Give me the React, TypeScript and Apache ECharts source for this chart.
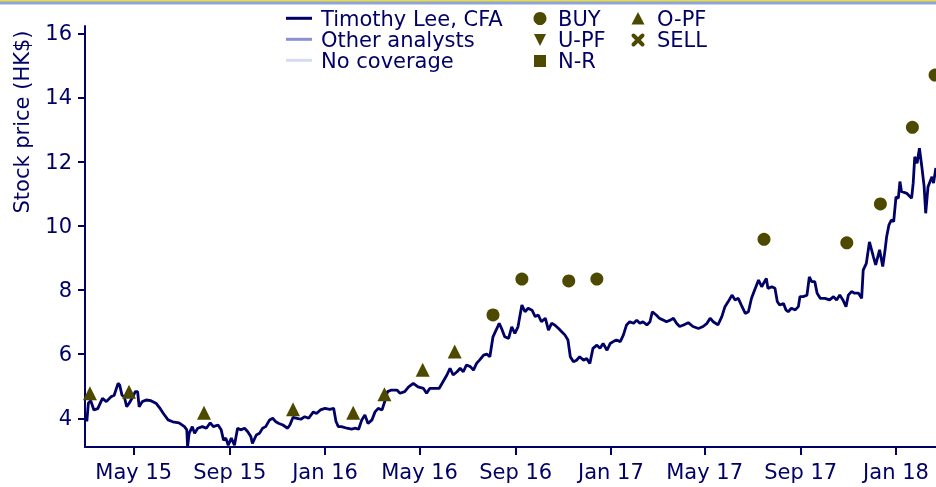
import React, { useEffect, useRef } from "react";
import * as echarts from "echarts";

const BASE = Date.UTC(2015, 0, 1);
const DAY = 86400000;

// Share price (HK$), x = days since 2015-01-01
const priceDays = [
  60, 62, 65, 69, 74, 80, 85, 91, 95, 100, 102, 105, 108, 111, 114, 119, 122, 125, 127, 131,
  136, 142, 149, 154, 158, 164, 170, 178, 185, 188, 189, 191, 195, 198, 202, 208, 213, 218, 222, 228,
  232, 235, 238, 241, 245, 249, 253, 257, 262, 266, 270, 272, 277, 281, 285, 289, 294, 298, 302, 306,
  311, 317, 320, 324, 329, 334, 339, 344, 350, 354, 359, 365, 371, 376, 379, 382, 386, 393, 399, 403,
  408, 412, 416, 420, 425, 429, 433, 438, 442, 445, 450, 457, 461, 467, 472, 478, 484, 491, 495, 499,
  506, 511, 516, 521, 525, 529, 534, 538, 542, 546, 551, 555, 559, 563, 568, 572, 576, 580, 585, 588,
  591, 595, 600, 604, 608, 612, 617, 621, 625, 630, 634, 638, 642, 647, 651, 655, 659, 664, 668, 672,
  676, 679, 683, 687, 691, 696, 700, 704, 708, 713, 717, 721, 726, 730, 734, 738, 743, 747, 751, 755,
  760, 764, 768, 772, 777, 781, 784, 789, 793, 798, 802, 807, 811, 815, 819, 824, 830, 836, 843, 849,
  854, 858, 862, 868, 873, 877, 881, 886, 890, 894, 898, 903, 907, 911, 915, 920, 924, 930, 932, 937,
  941, 944, 947, 952, 955, 958, 962, 967, 971, 973, 977, 982, 985, 988, 992, 995, 999, 1005, 1011, 1016,
  1020, 1024, 1028, 1032, 1035, 1039, 1043, 1048, 1052, 1054, 1058, 1062, 1067, 1070, 1075, 1079, 1082, 1084, 1087, 1090,
  1093, 1096, 1099, 1101, 1103, 1110, 1116, 1118, 1120, 1123, 1126, 1129, 1132, 1134, 1137, 1142, 1144, 1147,
];
const priceValues = [
  3.9, 4.48, 4.55, 4.26, 4.3, 4.62, 4.52, 4.67, 4.72, 5.09, 5.04, 4.72, 4.67, 4.36, 4.46, 4.67, 4.83, 4.83, 4.36, 4.52,
  4.57, 4.55, 4.46, 4.3, 4.15, 3.95, 3.89, 3.86, 3.74, 3.64, 3.11, 3.53, 3.74, 3.53, 3.69, 3.74, 3.69, 3.86, 3.74, 3.79,
  3.64, 3.32, 3.38, 3.16, 3.38, 3.16, 3.69, 3.64, 3.69, 3.58, 3.43, 3.22, 3.48, 3.53, 3.69, 3.74, 3.95, 4.0, 3.89, 3.84,
  3.79, 3.69, 3.79, 4.03, 4.0, 3.97, 4.05, 4.0, 4.2, 4.15, 4.26, 4.31, 4.28, 4.31, 3.9, 3.74, 3.74, 3.69, 3.66, 3.69,
  3.66, 3.95, 4.1, 3.84, 3.95, 4.2, 4.31, 4.26, 4.57, 4.83, 4.88, 4.88, 4.78, 4.83, 4.98, 5.09, 4.98, 4.93, 4.78, 4.93,
  4.93, 4.93, 5.14, 5.35, 5.56, 5.35, 5.45, 5.56, 5.45, 5.66, 5.61, 5.5, 5.71, 5.82, 5.97, 6.0, 5.92, 6.54, 6.8, 6.96,
  6.8, 6.54, 6.49, 6.85, 6.65, 6.85, 7.53, 7.32, 7.43, 7.37, 7.17, 7.22, 7.01, 7.12, 6.75, 6.96, 6.91, 6.8, 6.7, 6.6,
  6.44, 5.92, 5.76, 5.81, 5.92, 5.81, 5.86, 5.71, 6.18, 6.28, 6.18, 6.33, 6.12, 6.33, 6.39, 6.44, 6.39, 6.6, 6.91, 7.01,
  6.96, 7.06, 6.96, 7.01, 6.91, 7.01, 7.32, 7.22, 7.12, 7.06, 7.01, 7.06, 7.12, 6.96, 6.86, 6.91, 6.98, 6.86, 6.8, 6.86,
  6.96, 7.12, 7.01, 6.91, 7.17, 7.48, 7.63, 7.84, 7.69, 7.74, 7.53, 7.27, 7.32, 7.74, 8.0, 8.31, 8.1, 8.36, 8.05, 8.1,
  8.05, 7.64, 7.53, 7.58, 7.38, 7.32, 7.43, 7.38, 7.48, 7.79, 7.79, 7.84, 8.41, 8.26, 8.26, 7.9, 7.74, 7.74, 7.69, 7.79,
  7.69, 7.84, 7.69, 7.48, 7.84, 7.95, 7.9, 7.9, 7.74, 8.62, 8.83, 9.5, 9.04, 8.78, 9.25, 8.73, 9.25, 9.66, 10.03, 10.18,
  10.13, 10.9, 10.86, 11.38, 11.07, 11.01, 10.86, 11.33, 12.15, 11.95, 12.42, 11.85, 11.23, 10.39, 11.22, 11.53, 11.33, 11.8,
];

// Rating markers (target prices), x = days since 2015-01-01
const opfDays = [64, 114, 210, 324, 401, 441, 490, 531];
const opfValues = [4.78, 4.83, 4.17, 4.28, 4.17, 4.75, 5.51, 6.08];
const buyDays = [580, 617, 677, 713, 927, 1033, 1076, 1117, 1146];
const buyValues = [7.22, 8.34, 8.28, 8.34, 9.58, 9.47, 10.68, 13.07, 14.7];

const xTickDates = [
  [2015, 4], [2015, 8], [2016, 0], [2016, 4], [2016, 8], [2017, 0], [2017, 4], [2017, 8], [2018, 0],
];
const xTickLabels = ["May 15", "Sep 15", "Jan 16", "May 16", "Sep 16", "Jan 17", "May 17", "Sep 17", "Jan 18"];
const yTicks = [4, 6, 8, 10, 12, 14, 16];

const legendLines = ["Timothy Lee, CFA", "Other analysts", "No coverage"];
const legendRatings = ["BUY", "U-PF", "N-R", "O-PF", "SELL"];

const NAVY = "#000066";
const OLIVE = "#4d4a00";
const FONT = "DejaVu Sans, Verdana, sans-serif";

const toMs = (d: number) => BASE + d * DAY;

export default function App() {
  const ref = useRef<HTMLDivElement>(null);
  useEffect(() => {
    if (!ref.current) return;
    const chart = echarts.init(ref.current, undefined, { renderer: "svg" });
    const tickMs = xTickDates.map(([y, m]) => Date.UTC(y, m, 1));
    const labelFor = (v: number) => {
      const i = tickMs.findIndex((t) => Math.abs(t - v) < DAY / 2);
      return i >= 0 ? xTickLabels[i] : "";
    };
    const lineColors = [NAVY, "#8a90d4", "#d5dcf1"];
    const graphic: any[] = [
      { type: "rect", shape: { x: 0, y: 0, width: 936, height: 1.2 }, style: { fill: "#f2e400" } },
      { type: "rect", shape: { x: 0, y: 1.2, width: 936, height: 3.4 }, style: { fill: "#8fa2dc" } },
      {
        type: "text",
        x: 22,
        y: 122,
        rotation: Math.PI / 2,
        style: { text: "Stock price (HK$)", fill: NAVY, fontSize: 21, fontFamily: FONT, align: "center", verticalAlign: "middle" },
      },
    ];
    legendLines.forEach((name, i) => {
      const y = 18.3 + i * 21;
      graphic.push({ type: "line", shape: { x1: 286, y1: y, x2: 312, y2: y }, style: { stroke: lineColors[i], lineWidth: 3 } });
      graphic.push({
        type: "text",
        x: 321,
        y: y + 1,
        style: { text: name, fill: NAVY, fontSize: 21, lineHeight: 20, fontFamily: FONT, verticalAlign: "middle" },
      });
    });
    // rating legend markers
    graphic.push({ type: "circle", shape: { cx: 540, cy: 18.5, r: 6.5 }, style: { fill: OLIVE } });
    graphic.push({ type: "polygon", shape: { points: [[534, 34], [546, 34], [540, 46]] }, style: { fill: OLIVE } });
    graphic.push({ type: "rect", shape: { x: 534, y: 55, width: 12, height: 12 }, style: { fill: OLIVE } });
    graphic.push({ type: "polygon", shape: { points: [[638, 12], [644.5, 24.5], [631.5, 24.5]] }, style: { fill: OLIVE } });
    graphic.push({ type: "line", shape: { x1: 633.5, y1: 35.5, x2: 642.5, y2: 44.5 }, style: { stroke: OLIVE, lineWidth: 4, lineCap: "round" } });
    graphic.push({ type: "line", shape: { x1: 642.5, y1: 35.5, x2: 633.5, y2: 44.5 }, style: { stroke: OLIVE, lineWidth: 4, lineCap: "round" } });
    const ratingPos = [[558, 18.3], [558, 39.3], [558, 60.3], [657, 18.3], [657, 39.3]];
    legendRatings.forEach((name, i) => {
      graphic.push({
        type: "text",
        x: ratingPos[i][0],
        y: ratingPos[i][1] + 1,
        style: { text: name, fill: NAVY, fontSize: 21, lineHeight: 20, fontFamily: FONT, verticalAlign: "middle" },
      });
    });

    chart.setOption({
      animation: false,
      grid: { left: 85, right: 0, top: 26, bottom: 40, containLabel: false },
      xAxis: {
        type: "value",
        min: toMs(57.65),
        max: toMs(1147.2),
        splitLine: { show: false },
        axisLine: { lineStyle: { color: NAVY, width: 2 } },
        axisTick: { show: true, length: 8, lineStyle: { color: NAVY, width: 2 }, customValues: tickMs },
        axisLabel: {
          customValues: tickMs,
          formatter: (v: number) => labelFor(v),
          color: NAVY,
          fontSize: 21,
          fontFamily: FONT,
          margin: 14,
        },
      },
      yAxis: {
        type: "value",
        min: 3.105,
        max: 16.228,
        splitLine: { show: false },
        axisLine: { show: true, lineStyle: { color: NAVY, width: 2 } },
        axisTick: { show: true, length: 7, lineStyle: { color: NAVY, width: 2 }, customValues: yTicks },
        axisLabel: { customValues: yTicks, color: NAVY, fontSize: 21, fontFamily: FONT, margin: 13 },
      },
      graphic,
      series: [
        {
          type: "line",
          data: priceDays.map((d, i) => [toMs(d), priceValues[i]]),
          showSymbol: false,
          lineStyle: { color: NAVY, width: 2.8 },
          itemStyle: { color: NAVY },
          z: 2,
        },
        {
          type: "scatter",
          data: opfDays.map((d, i) => [toMs(d), opfValues[i]]),
          symbol: "triangle",
          symbolSize: 14,
          itemStyle: { color: OLIVE, opacity: 1 },
          z: 3,
        },
        {
          type: "scatter",
          data: buyDays.map((d, i) => [toMs(d), buyValues[i]]),
          symbol: "circle",
          symbolSize: 13,
          itemStyle: { color: OLIVE, opacity: 1 },
          clip: false,
          z: 3,
        },
      ],
    });
    return () => chart.dispose();
  }, []);
  return <div ref={ref} style={{ position: "fixed", left: 0, top: 0, width: 936, height: 487 }} />;
}
